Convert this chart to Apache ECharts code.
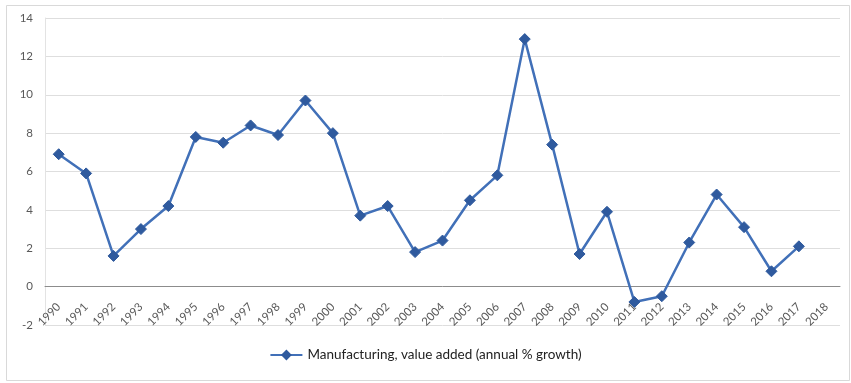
<!DOCTYPE html>
<html>
<head>
<meta charset="utf-8">
<script src="https://cdn.jsdelivr.net/npm/echarts@6/dist/echarts.min.js"></script>
<style>
  html, body { margin: 0; padding: 0; background: #fff; }
  #chart { width: 851px; height: 383px; }
</style>
</head>
<body>
<div id="chart"></div>
<script>
// Manufacturing, value added (annual % growth), 1990-2018
const years = ['1990','1991','1992','1993','1994','1995','1996','1997','1998','1999',
               '2000','2001','2002','2003','2004','2005','2006','2007','2008','2009',
               '2010','2011','2012','2013','2014','2015','2016','2017','2018'];
const growth = [6.9, 5.9, 1.6, 3.0, 4.2, 7.8, 7.5, 8.4, 7.9, 9.7,
                8.0, 3.7, 4.2, 1.8, 2.4, 4.5, 5.8, 12.9, 7.4, 1.7,
                3.9, -0.8, -0.5, 2.3, 4.8, 3.1, 0.8, 2.1, null];
const seriesName = 'Manufacturing, value added (annual % growth)';
const yMin = -2, yMax = 14, yStep = 2;

const chart = echarts.init(document.getElementById('chart'), null, { renderer: 'canvas' });
const font = 'Lato, "Liberation Sans", sans-serif';

chart.setOption({
  backgroundColor: '#ffffff',
  animation: false,
  graphic: [{
    type: 'rect',
    left: 4, top: 3,
    shape: { width: 843, height: 375 },
    style: { fill: 'none', stroke: '#d9d9d9', lineWidth: 1 },
    silent: true
  }],
  grid: { left: 45, right: 11, top: 18, bottom: 58 },
  legend: {
    bottom: 16,
    left: 'center',
    itemWidth: 32,
    itemHeight: 10,
    itemGap: 4,
    textStyle: { fontFamily: font, fontSize: 13.5, color: '#222' },
    data: [seriesName]
  },
  xAxis: {
    type: 'category',
    data: years,
    boundaryGap: true,
    axisLine: { onZero: true, lineStyle: { color: '#8c8c8c', width: 1 } },
    axisTick: { show: false },
    axisLabel: {
      interval: 0,
      rotate: 45,
      margin: -20,
      fontFamily: font,
      fontSize: 11.5,
      color: '#595959'
    },
    splitLine: { show: false }
  },
  yAxis: {
    type: 'value',
    min: yMin, max: yMax, interval: yStep,
    axisLine: { show: true, lineStyle: { color: '#e3e3e3' } },
    axisTick: { show: false },
    axisLabel: { fontFamily: font, fontSize: 11.5, color: '#595959', margin: 12 },
    splitLine: { lineStyle: { color: '#dedede', width: 1 } }
  },
  series: [{
    name: seriesName,
    type: 'line',
    data: growth,
    symbol: 'diamond',
    symbolSize: 11,
    connectNulls: false,
    lineStyle: { color: '#4170b8', width: 2.5 },
    itemStyle: { color: '#2f5a9e', borderColor: '#2f5a9e', borderWidth: 1 }
  }]
});
</script>
</body>
</html>
